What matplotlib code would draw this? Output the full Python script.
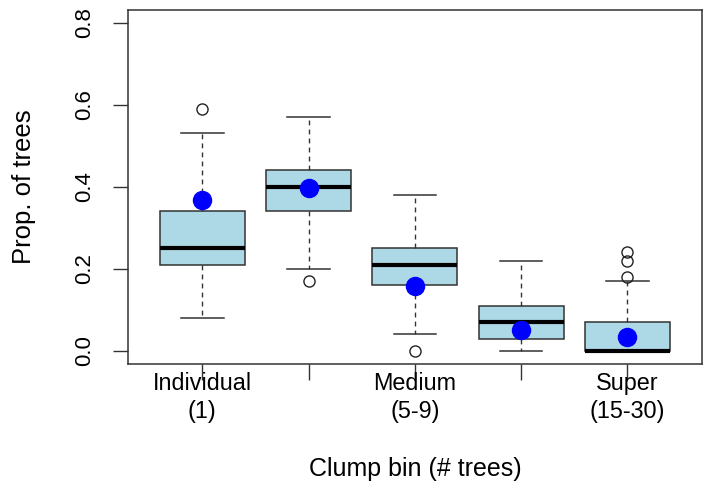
import matplotlib
matplotlib.use("Agg")
import matplotlib.pyplot as plt

plt.rcParams['font.family'] = ['Liberation Sans', 'DejaVu Sans']

# values
bins = ["Individual\n(1)", "", "Medium\n(5-9)", "", "Super\n(15-30)"]
whislo = [0.08, 0.20, 0.04, 0.00, 0.00]
q1 = [0.21, 0.34, 0.16, 0.03, 0.00]
med = [0.25, 0.40, 0.21, 0.07, 0.00]
q3 = [0.34, 0.44, 0.25, 0.11, 0.07]
whishi = [0.53, 0.57, 0.38, 0.22, 0.17]
fliers = [[0.59], [0.17], [0.00], [], [0.18, 0.22, 0.24]]
means = [0.368, 0.398, 0.159, 0.050, 0.035]

positions = list(range(1, len(bins) + 1))
stats = []
for i in range(len(bins)):
    stats.append(dict(whislo=whislo[i], q1=q1[i], med=med[i], q3=q3[i],
                      whishi=whishi[i], fliers=fliers[i]))

fig = plt.figure(figsize=(7.13, 4.9), dpi=100)
ax = fig.add_axes([0.1795, 0.2571, 0.8046, 0.7235])

edge = '#333333'
ax.bxp(stats, positions=positions, widths=0.8, capwidths=0.4,
       showfliers=True, patch_artist=True,
       boxprops=dict(facecolor='#ADD8E6', edgecolor=edge, linewidth=1.1),
       medianprops=dict(color='black', linewidth=3.0, solid_capstyle='butt'),
       whiskerprops=dict(color=edge, linewidth=1.0, linestyle=(0, (3.5, 3))),
       capprops=dict(color=edge, linewidth=1.1),
       flierprops=dict(marker='o', markerfacecolor='none', markeredgecolor='#222222',
                       markersize=8, markeredgewidth=1.0))

ax.plot(positions, means, 'o', color='#0000FF', markersize=13, zorder=5)

ax.set_xlim(0.3, 5.7)
ax.set_ylim(-0.032, 0.832)
ax.set_yticks([0.0, 0.2, 0.4, 0.6, 0.8])
ax.set_yticklabels(['0.0', '0.2', '0.4', '0.6', '0.8'], rotation=90, va='center')
ax.set_xticks(positions)
ax.set_xticklabels(bins, linespacing=1.32)

ax.tick_params(axis='y', length=11, width=1, color=edge, labelsize=16, pad=13)
ax.tick_params(axis='x', length=11.5, width=1, color=edge, labelsize=16.8, pad=-6)
for s in ax.spines.values():
    s.set_color(edge)
    s.set_linewidth(1.1)

ax.set_ylabel('Prop. of trees', fontsize=18.5)
ax.yaxis.set_label_coords(-0.16, 0.5)
ax.set_xlabel('Clump bin (# trees)', fontsize=18)
ax.xaxis.set_label_coords(0.5, -0.262)

fig.savefig('out.png', dpi=100)
